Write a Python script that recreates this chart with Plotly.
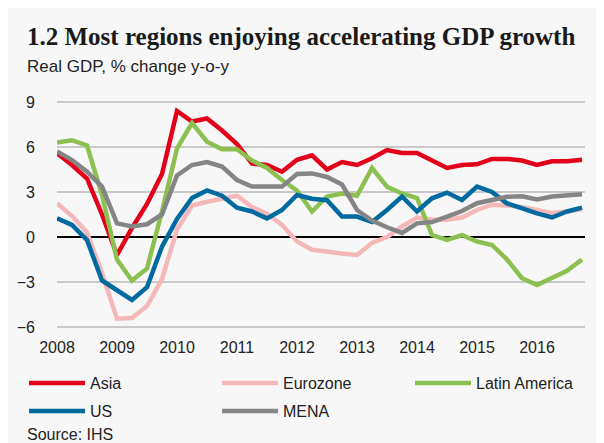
import plotly.graph_objects as go

years = ["2008", "2009", "2010", "2011", "2012", "2013", "2014", "2015", "2016"]
quarters = [f"{y} Q{q}" for y in years for q in range(1, 5)]

asia = [5.6, 4.8, 3.9, 1.5, -1.2, 0.6, 2.2, 4.2, 8.4, 7.7, 7.9, 7.1, 6.2, 4.9, 4.8, 4.35,
        5.15, 5.45, 4.5, 5.0, 4.8, 5.25, 5.8, 5.6, 5.6, 5.1, 4.6, 4.8, 4.85, 5.2, 5.2, 5.1,
        4.8, 5.05, 5.05, 5.15]
eurozone = [2.25, 1.4, 0.3, -2.4, -5.45, -5.4, -4.6, -2.8, 0.5, 2.1, 2.35, 2.55, 2.75, 2.0, 1.55, 0.8,
            -0.3, -0.85, -1.0, -1.1, -1.2, -0.4, 0.0, 0.7, 1.3, 1.15, 1.15, 1.3, 1.8, 2.15, 2.1, 2.0,
            1.8, 1.6, 1.7, 1.85]
latam = [6.3, 6.45, 6.1, 2.8, -1.5, -2.9, -2.1, 1.7, 5.9, 7.6, 6.35, 5.85, 5.85, 5.1, 4.6, 3.8,
         3.1, 1.7, 2.7, 2.9, 2.75, 4.6, 3.35, 2.9, 2.6, 0.13, -0.2, 0.13, -0.3, -0.53, -1.5, -2.75,
         -3.2, -2.7, -2.25, -1.5]
us = [1.25, 0.8, -0.2, -2.9, -3.55, -4.2, -3.35, -0.64, 1.2, 2.6, 3.1, 2.75, 1.95, 1.7, 1.24, 1.8,
      2.8, 2.55, 2.45, 1.36, 1.36, 1.0, 1.8, 2.7, 1.7, 2.58, 2.96, 2.47, 3.36, 3.0, 2.24, 1.9,
      1.58, 1.3, 1.7, 1.96]
mena = [5.7, 5.13, 4.36, 3.36, 0.91, 0.7, 0.85, 1.5, 4.1, 4.8, 5.0, 4.7, 3.8, 3.36, 3.36, 3.36,
        4.2, 4.24, 4.0, 3.5, 1.8, 1.1, 0.65, 0.27, 0.91, 1.0, 1.36, 1.73, 2.25, 2.45, 2.68, 2.72,
        2.5, 2.7, 2.8, 2.85]

series_names = ["Asia", "Eurozone", "Latin America", "US", "MENA"]
series_values = [asia, eurozone, latam, us, mena]
series_colors = ["#E2001A", "#F5B8B8", "#8CC152", "#0069A0", "#858585"]
series_legend = ["legend", "legend", "legend", "legend2", "legend2"]
y_ticks = [-6, -3, 0, 3, 6, 9]

# figure sits at (8, 8) inside the page (default body margin)
OFF = 8
W, H = 604 - OFF, 443 - OFF
L, T, PW, PH = 49, 88, 528, 234


def px_x(xs):
    return (xs - OFF - L) / PW


def px_y(ys):
    return (T + PH - (ys - OFF)) / PH


fig = go.Figure()
for name, vals, col, lg in zip(series_names, series_values, series_colors, series_legend):
    fig.add_trace(go.Scatter(x=quarters, y=vals, name=name, mode="lines", legend=lg,
                             line=dict(color=col, width=4.5)))

bg = "#F7F7F7"
leg_common = dict(orientation="h", xanchor="left", yanchor="middle",
                  entrywidth=122, entrywidthmode="pixels", itemwidth=56,
                  font=dict(size=16, color="#222222"), bgcolor="rgba(0,0,0,0)",
                  itemclick=False, itemdoubleclick=False)
fig.update_layout(
    width=W, height=H,
    margin=dict(l=L, r=W - L - PW, t=T, b=H - T - PH, autoexpand=False),
    paper_bgcolor=bg, plot_bgcolor=bg,
    font=dict(family="Liberation Sans, Arial, sans-serif", size=16, color="#222222"),
    showlegend=True,
    legend=dict(x=px_x(24), y=px_y(383), **leg_common),
    legend2=dict(x=px_x(24), y=px_y(411), **leg_common),
    xaxis=dict(type="category", range=[0, 35.2], tickmode="array",
               tickvals=[f"{y} Q1" for y in years], ticktext=years,
               showgrid=False, zeroline=False, showline=False, ticks="",
               ticklabelstandoff=6, tickfont=dict(size=16)),
    yaxis=dict(range=[-6.2, 9.4], tickvals=y_ticks, showgrid=True, gridcolor="#C9C9C9",
               gridwidth=1.5, zeroline=True, zerolinecolor="#000000", zerolinewidth=2,
               showline=False, ticks="", ticklabelstandoff=21, tickfont=dict(size=16)),
    annotations=[
        dict(text="<b>1.2 Most regions enjoying accelerating GDP growth</b>", xref="paper", yref="paper",
             x=px_x(25), y=px_y(52), xanchor="left", yanchor="bottom", showarrow=False,
             font=dict(family="Liberation Serif, serif", size=25, color="#1a1a1a")),
        dict(text="Real GDP, % change y-o-y", xref="paper", yref="paper",
             x=px_x(25), y=px_y(66), xanchor="left", yanchor="middle", showarrow=False,
             font=dict(size=17, color="#222222")),
        dict(text="Source: IHS", xref="paper", yref="paper",
             x=px_x(25), y=px_y(434), xanchor="left", yanchor="middle", showarrow=False,
             font=dict(size=16, color="#222222")),
    ],
)

fig.write_html("out.html")
